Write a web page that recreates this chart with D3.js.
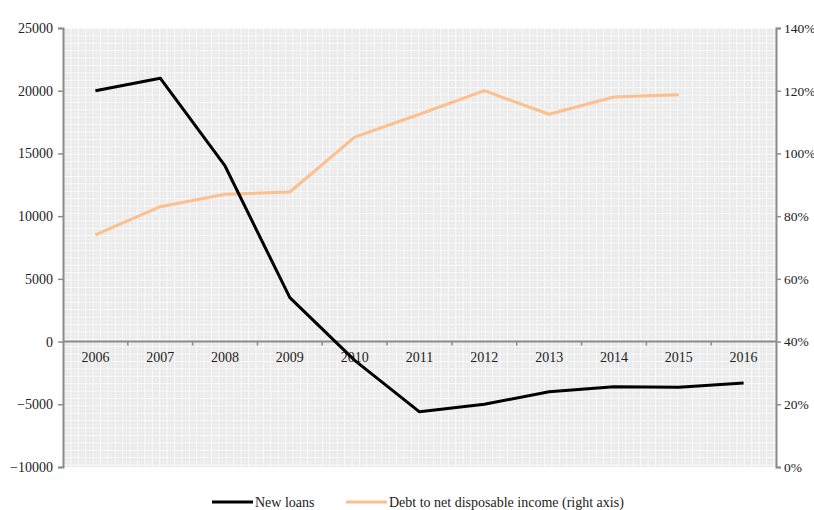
<!DOCTYPE html>
<html>
<head>
<meta charset="utf-8">
<script src="https://cdn.jsdelivr.net/npm/d3@7"></script>
<style>
  body { margin: 0; background: #fff; }
  svg text { font-family: "Liberation Serif", "Times New Roman", "DejaVu Serif", serif; fill: #222; }
</style>
</head>
<body>
<svg width="814" height="510"></svg>
<script>
'use strict';

// data
const years = ["2006", "2007", "2008", "2009", "2010", "2011", "2012", "2013", "2014", "2015", "2016"];
const newLoans = [20000, 21000, 14000, 3500, -1500, -5600, -5000, -4000, -3600, -3650, -3300];
const debtRatio = [0.74, 0.83, 0.87, 0.877, 1.052, 1.125, 1.20, 1.125, 1.18, 1.187, null];
const leftTicks = [-10000, -5000, 0, 5000, 10000, 15000, 20000, 25000];
const rightTicks = [0, 0.2, 0.4, 0.6, 0.8, 1.0, 1.2, 1.4];

const serif = "'Liberation Serif', 'Times New Roman', serif";

const svg = d3.select("svg").attr("font-family", serif);
const margin = {top: 28, right: 38, bottom: 43, left: 63};
const width = 814 - margin.left - margin.right,
    height = 510 - margin.top - margin.bottom;

const g = svg.append("g").attr("transform", "translate(" + margin.left + "," + margin.top + ")");

// background pattern (grey grid)
const defs = svg.append("defs");
const pat = defs.append("pattern")
    .attr("id", "grid")
    .attr("patternUnits", "userSpaceOnUse")
    .attr("width", 7.4).attr("height", 7.4);
pat.append("rect").attr("width", 7.4).attr("height", 7.4).attr("fill", "#fbfbfb");
pat.append("rect").attr("x", 1).attr("y", 1).attr("width", 6.4).attr("height", 6.4).attr("fill", "#eaeaea");
pat.append("rect").attr("x", 3.7).attr("y", 1).attr("width", 0.6).attr("height", 6.4).attr("fill", "#f3f3f3");
pat.append("rect").attr("x", 1).attr("y", 3.7).attr("width", 6.4).attr("height", 0.6).attr("fill", "#f3f3f3");

g.append("rect")
    .attr("width", width).attr("height", height)
    .attr("fill", "url(#grid)");

const x = d3.scaleBand().domain(years).range([0, width]);
const yL = d3.scaleLinear().domain([-10000, 25000]).range([height, 0]);
const yR = d3.scaleLinear().domain([0, 1.4]).range([height, 0]);

// left axis
const leftAxis = g.append("g")
    .call(d3.axisLeft(yL).tickValues(leftTicks).tickFormat(d3.format("d")).tickSize(5).tickPadding(5));
// right axis
const rightAxis = g.append("g")
    .attr("transform", "translate(" + width + ",0)")
    .call(d3.axisRight(yR).tickValues(rightTicks).tickFormat(d3.format(".0%")).tickSize(5).tickPadding(3));

[leftAxis, rightAxis].forEach(function (a) {
    a.attr("font-family", serif);
    a.select(".domain").attr("stroke", "#8c8c8c").attr("stroke-width", 2);
    a.selectAll(".tick line").attr("stroke", "#8c8c8c").attr("stroke-width", 1.5);
    a.selectAll("text").attr("font-size", 14).attr("fill", "#222");
});
rightAxis.selectAll("text").attr("font-size", 13.5);

// category axis on the zero line
const zeroY = yL(0);
const xAxis = g.append("g").attr("transform", "translate(0," + zeroY + ")");
xAxis.append("line")
    .attr("x1", 0).attr("x2", width)
    .attr("stroke", "#8c8c8c").attr("stroke-width", 2);
xAxis.selectAll(".sep")
    .data(years.slice(1))
    .enter().append("line")
    .attr("x1", function (d) { return x(d); })
    .attr("x2", function (d) { return x(d); })
    .attr("y1", 0).attr("y2", 4)
    .attr("stroke", "#8c8c8c").attr("stroke-width", 1.5);
xAxis.selectAll(".lbl")
    .data(years)
    .enter().append("text")
    .attr("x", function (d) { return x(d) + x.bandwidth() / 2; })
    .attr("y", 20)
    .attr("text-anchor", "middle")
    .attr("font-size", 14)
    .text(function (d) { return d; });

const cx = function (i) { return x(years[i]) + x.bandwidth() / 2; };

// debt ratio line (right axis)
const lineR = d3.line()
    .defined(function (d) { return d != null; })
    .x(function (d, i) { return cx(i); })
    .y(function (d) { return yR(d); });
g.append("path")
    .datum(debtRatio)
    .attr("fill", "none")
    .attr("stroke", "#fcc08f")
    .attr("stroke-width", 3)
    .attr("stroke-linejoin", "round")
    .attr("d", lineR);

// new loans line (left axis)
const lineL = d3.line()
    .x(function (d, i) { return cx(i); })
    .y(function (d) { return yL(d); });
g.append("path")
    .datum(newLoans)
    .attr("fill", "none")
    .attr("stroke", "#000")
    .attr("stroke-width", 3)
    .attr("stroke-linejoin", "round")
    .attr("d", lineL);

// legend
const legend = [
    {name: "New loans", color: "#000", x: 212},
    {name: "Debt to net disposable income (right axis)", color: "#fcc08f", x: 346}
];
const lg = svg.append("g").attr("transform", "translate(0,502)");
legend.forEach(function (l) {
    lg.append("line")
        .attr("x1", l.x).attr("x2", l.x + 41)
        .attr("stroke", l.color).attr("stroke-width", 3);
    lg.append("text")
        .attr("x", l.x + 43).attr("y", 5)
        .attr("font-size", 14)
        .text(l.name);
});
</script>
</body>
</html>
